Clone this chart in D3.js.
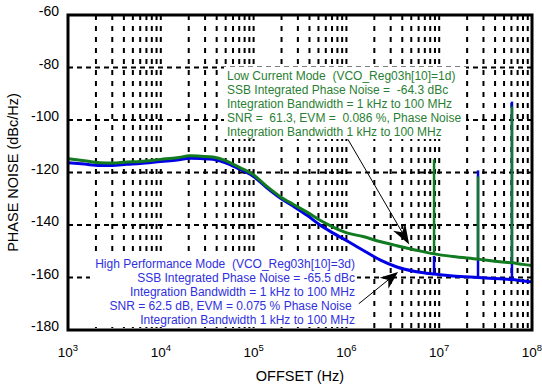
<!DOCTYPE html>
<html><head><meta charset="utf-8">
<script src="https://cdn.jsdelivr.net/npm/d3@7"></script>
<style>
html,body{margin:0;padding:0;background:#fff;}
svg{display:block;font-family:"Liberation Sans",Arial,Helvetica,sans-serif;}
.ann{white-space:pre;}
</style></head>
<body><svg id="c" width="542" height="385"></svg>
<script>
// ---- data ----
const freqHz = [1e3, 1.5e3, 2.2e3, 3e3, 4.3e3, 6e3, 1e4, 1.5e4, 2.07e4, 2.7e4, 3.65e4, 5e4, 6.6e4, 9.8e4, 1.39e5, 1.92e5, 2.66e5, 3.76e5, 5.2e5, 7.2e5, 1.01e6, 1.51e6, 2.3e6, 3.5e6, 5.5e6, 8.8e6, 1.4e7, 2.62e7, 4.5e7, 6.08e7, 8e7, 1e8];
const lowCurrentDb = [-114.7, -115.5, -116.3, -116.4, -116.0, -115.8, -115.0, -114.4, -113.6, -113.8, -114.1, -115.5, -117.6, -120.7, -125.3, -129.1, -132.1, -135.1, -138.2, -140.8, -143.0, -144.4, -146.3, -147.9, -149.5, -151.0, -152.0, -153.0, -154.0, -154.4, -155.0, -155.4];
const highPerfDb   = [-116.3, -116.8, -117.3, -117.3, -116.9, -116.6, -115.8, -115.2, -114.6, -114.7, -115.0, -116.3, -118.2, -121.3, -125.8, -129.6, -132.8, -136.3, -140.0, -143.1, -146.0, -149.6, -153.3, -156.0, -157.7, -158.7, -159.4, -160.0, -160.5, -160.8, -161.3, -161.7];
const spikeFreqHz = [8.8e6, 2.62e7, 6.08e7];
const lowCurrentSpikeBase = [-151.0, -153.0, -154.4];
const lowCurrentSpikeTop  = [-115.0, -121.5, -94.9];
const highPerfSpikeBase   = [-158.7, -160.0, -160.8];
const highPerfSpikeTop    = [-151.8, -119.2, -93.0];
const xTickExp = [3, 4, 5, 6, 7, 8];
const yTicks = [-60, -80, -100, -120, -140, -160, -180];
const lowCurrentText = [
  "Low Current Mode  (VCO_Reg03h[10]=1d)",
  "SSB Integrated Phase Noise =  -64.3 dBc",
  "Integration Bandwidth = 1 kHz to 100 MHz",
  "SNR =  61.3, EVM =  0.086 %, Phase Noise",
  "Integration Bandwidth 1 kHz to 100 MHz"
];
const highPerfText = [
  "High Performance Mode  (VCO_Reg03h[10]=3d)",
  "SSB Integrated Phase Noise = -65.5 dBc",
  "Integration Bandwidth = 1 kHz to 100 MHz",
  "SNR = 62.5 dB, EVM = 0.075 % Phase Noise ",
  "Integration Bandwidth 1 kHz to 100 MHz"
];
// annotation arrows in data units: [fromHz, fromDb, toHz, toDb]
const arrowLow  = [1.04e6, -107.4, 4.75e6, -147.4];
const arrowHigh = [1.36e6, -170.0, 3.6e6, -157.9];

// ---- layout ----
const svg = d3.select("#c");
const L = 68, R = 532, T = 15, B = 330;
const x = d3.scaleLog().domain([1e3, 1e8]).range([L, R]);
const y = d3.scaleLinear().domain([-180, -60]).range([B, T]);
const GREEN = "#127a20", BLUE = "#0000e6", GTEXT = "#2a7f34", BTEXT = "#2f2fe0";

// grid: vertical
const vLines = [];
for (let e = 3; e < 8; e++) for (let m = 1; m < 10; m++) vLines.push(m * Math.pow(10, e));
svg.append("g").selectAll("line").data(vLines.slice(1)).join("line")
  .attr("x1", d => x(d)).attr("x2", d => x(d)).attr("y1", T).attr("y2", B)
  .attr("stroke", "#000").attr("stroke-width", 2).attr("stroke-dasharray", "5,6");
svg.append("g").selectAll("line").data(yTicks.filter(v => v > -180 && v < -60)).join("line")
  .attr("x1", L).attr("x2", R).attr("y1", d => y(d)).attr("y2", d => y(d))
  .attr("stroke", "#000").attr("stroke-width", 2).attr("stroke-dasharray", "5,4");

// white text boxes
svg.append("rect").attr("x", 224).attr("y", 67).attr("width", 242).attr("height", 72).attr("fill", "#fff");
svg.append("rect").attr("x", 90).attr("y", 255).attr("width", 267).attr("height", 72).attr("fill", "#fff");

// texts
svg.append("g").selectAll("text").data(lowCurrentText).join("text").attr("class", "ann")
  .attr("x", 227).attr("y", (d, i) => 80 + i * 14).attr("font-size", 12)
  .attr("fill", GTEXT).text(d => d);
svg.append("g").selectAll("text").data(highPerfText).join("text").attr("class", "ann")
  .attr("x", 355).attr("y", (d, i) => 268 + i * 14).attr("font-size", 12)
  .attr("text-anchor", "end").attr("fill", BTEXT).text(d => d);

// curves
const line = d3.line().x(d => x(d[0])).y(d => y(d[1])).curve(d3.curveMonotoneX);
const blueData = freqHz.map((f, i) => [f, highPerfDb[i]]);
const greenData = freqHz.map((f, i) => [f, lowCurrentDb[i]]);
svg.append("path").datum(blueData).attr("d", line).attr("fill", "none").attr("stroke", BLUE).attr("stroke-width", 3);
svg.append("g").selectAll("line").data(spikeFreqHz).join("line")
  .attr("x1", d => x(d)).attr("x2", d => x(d))
  .attr("y1", (d, i) => y(highPerfSpikeBase[i])).attr("y2", (d, i) => y(highPerfSpikeTop[i]))
  .attr("stroke", BLUE).attr("stroke-width", 2.5);
svg.append("path").datum(greenData).attr("d", line).attr("fill", "none").attr("stroke", GREEN).attr("stroke-width", 3);
svg.append("g").selectAll("line").data(spikeFreqHz).join("line")
  .attr("x1", d => x(d)).attr("x2", d => x(d))
  .attr("y1", (d, i) => y(lowCurrentSpikeBase[i])).attr("y2", (d, i) => y(lowCurrentSpikeTop[i]))
  .attr("stroke", GREEN).attr("stroke-width", 2.5);

// arrows
function arrow(a, len, hw) {
  const x1 = x(a[0]), y1 = y(a[1]), x2 = x(a[2]), y2 = y(a[3]);
  const dx = x2 - x1, dy = y2 - y1, d = Math.hypot(dx, dy), ux = dx / d, uy = dy / d;
  const px = -uy, py = ux;
  const bx = x2 - ux * len, by = y2 - uy * len;
  const nx = x2 - ux * len * 0.7, ny = y2 - uy * len * 0.7;
  svg.append("line").attr("x1", x1).attr("y1", y1).attr("x2", nx).attr("y2", ny)
    .attr("stroke", "#000").attr("stroke-width", 1);
  svg.append("path").attr("d", `M${x2},${y2}L${bx + px * hw},${by + py * hw}L${nx},${ny}L${bx - px * hw},${by - py * hw}Z`)
    .attr("fill", "#000");
}
arrow(arrowLow, 20, 7);
arrow(arrowHigh, 18, 7);

// frame
svg.append("rect").attr("x", L).attr("y", T).attr("width", R - L).attr("height", B - T)
  .attr("fill", "none").attr("stroke", "#000").attr("stroke-width", 3);

// y tick labels
svg.append("g").selectAll("text").data(yTicks).join("text")
  .attr("x", 59).attr("y", d => y(d) + 1).attr("text-anchor", "end")
  .attr("font-size", 14).attr("fill", "#000").text(d => d);
// x tick labels
const xl = svg.append("g").selectAll("text").data(xTickExp).join("text")
  .attr("x", d => x(Math.pow(10, d))).attr("y", 357).attr("text-anchor", "middle")
  .attr("font-size", 13.5).attr("fill", "#000");
xl.append("tspan").text("10");
xl.append("tspan").attr("dy", -6).attr("font-size", 9.5).text(d => d);
// axis titles
svg.append("text").attr("x", (L + R) / 2).attr("y", 381).attr("text-anchor", "middle")
  .attr("font-size", 14.5).text("OFFSET (Hz)");
svg.append("text").attr("transform", `translate(18,${(T + B) / 2}) rotate(-90)`)
  .attr("text-anchor", "middle").attr("font-size", 14.5).text("PHASE NOISE (dBc/Hz)");
</script></body></html>
